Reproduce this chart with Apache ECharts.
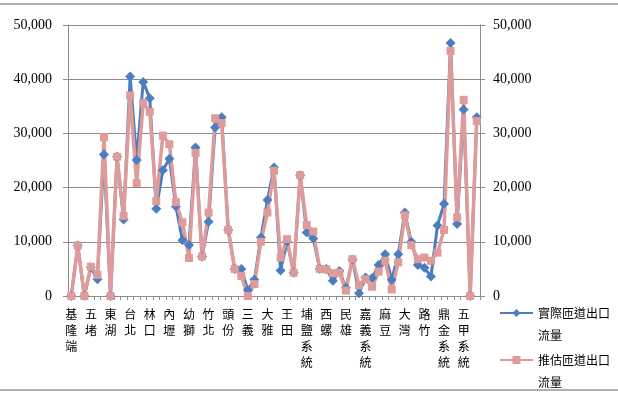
<!DOCTYPE html>
<html>
<head>
<meta charset="utf-8">
<script src="https://cdn.jsdelivr.net/npm/echarts@6/dist/echarts.min.js"></script>
<style>
html,body{margin:0;padding:0;background:#fff;}
#chart{width:618px;height:405px;}
</style>
</head>
<body>
<div id="chart"></div>
<script>
const categories = ['基隆端','基隆','八堵','五堵','汐止','汐止系統','東湖','內湖','圓山','台北',
  '三重','五股','林口','桃園','機場系統','內壢','中壢','平鎮系統','幼獅','楊梅',
  '湖口','竹北','新竹','新竹系統','頭份','苗栗','銅鑼','三義','后里','豐原',
  '大雅','台中','南屯','王田','彰化系統','彰化','埔鹽系統','員林','北斗','西螺',
  '斗南','大林','民雄','嘉義','水上','嘉義系統','新營','下營','麻豆','安定',
  '永康','大灣','仁德','仁德系統','路竹','岡山','楠梓','鼎金系統','高雄','瑞隆路',
  '五甲系統','中山四路','高雄端'];
const actualFlow = [0,9300,0,5300,3100,26100,0,25700,14100,40500,
  25100,39500,36500,16100,23200,25300,16500,10300,9400,27400,
  7300,13700,31100,33000,12200,5000,5000,1100,3000,10800,
  17700,23700,4700,10000,4300,22300,11700,10600,5000,5000,
  2800,4600,1500,6700,500,3400,3300,5700,7700,3000,
  7700,15400,10000,5700,5200,3600,13000,17000,46700,13300,
  34400,0,33000];
const estimatedFlow = [0,9300,0,5400,3900,29300,0,25700,14800,37000,
  20800,35600,34000,17500,29600,28000,17300,13600,7000,26400,
  7300,15400,32800,31900,12200,5000,3700,0,2200,10000,
  15400,23100,7100,10500,4300,22300,13100,11900,5000,4900,
  4200,4300,1000,6800,2000,3100,1700,4500,6500,1200,
  6200,14900,9400,6800,7100,6500,8000,12200,45200,14500,
  36200,0,32300];
const yTicks = [0,10000,20000,30000,40000,50000];
const seriesNames = ['實際匝道出口流量','推估匝道出口流量'];

const chart = echarts.init(document.getElementById('chart'), null, {renderer:'canvas'});
const gray = '#8C8C8C';
const blue = '#4A7EBF';
const pink = '#DE9B9A';
const fmt = v => v.toLocaleString('en-US');
const yAxisCommon = {
  type:'value', min:yTicks[0], max:yTicks[yTicks.length-1], interval:yTicks[1]-yTicks[0],
  axisLine:{show:true, lineStyle:{color:gray, width:1}},
  axisTick:{show:true, length:5, lineStyle:{color:gray}},
  axisLabel:{formatter:fmt, color:'#000', fontFamily:'Liberation Serif', fontSize:14, margin:16},
  splitLine:{show:true, lineStyle:{color:gray, width:1}}
};
const legendCommon = {
  orient:'vertical', left:494, itemWidth:33, itemHeight:10,
  formatter: name => '\u3000\n' + name.slice(0,6) + '\n' + name.slice(6),
  textStyle:{fontFamily:'Noto Sans CJK TC', fontSize:12, color:'#000', lineHeight:22}
};
chart.setOption({
  animation:false,
  backgroundColor:'#fff',
  grid:{left:68, right:138, top:25, bottom:109},
  graphic:[
    {type:'line', shape:{x1:0,y1:4,x2:618,y2:4}, style:{stroke:'#B0B0B0', lineWidth:2}},
    {type:'line', shape:{x1:0,y1:390,x2:618,y2:390}, style:{stroke:'#B0B0B0', lineWidth:2}}
  ],
  legend:[
    Object.assign({top:275, data:[seriesNames[0]]}, legendCommon),
    Object.assign({top:322, data:[seriesNames[1]]}, legendCommon)
  ],
  xAxis:{
    type:'category', data:categories, boundaryGap:true,
    axisLine:{show:true, lineStyle:{color:gray}},
    axisTick:{show:true, interval:0, length:4, lineStyle:{color:gray}},
    axisLabel:{interval:2, margin:10, color:'#000', fontFamily:'Noto Sans CJK TC', fontSize:12, lineHeight:16,
      formatter: v => v.split('').join('\n')}
  },
  yAxis:[Object.assign({position:'left'}, yAxisCommon),
         Object.assign({position:'right'}, yAxisCommon, {axisLabel:Object.assign({}, yAxisCommon.axisLabel, {margin:13})})],
  series:[
    {name:seriesNames[0], type:'line', data:actualFlow, yAxisIndex:0,
     symbol:'diamond', symbolSize:10, showAllSymbol:true, itemStyle:{color:blue},
     lineStyle:{color:blue, width:3}},
    {name:seriesNames[1], type:'line', data:estimatedFlow, yAxisIndex:1,
     symbol:'rect', symbolSize:8, showAllSymbol:true, itemStyle:{color:pink},
     lineStyle:{color:pink, width:3.5}}
  ]
});
</script>
</body>
</html>
